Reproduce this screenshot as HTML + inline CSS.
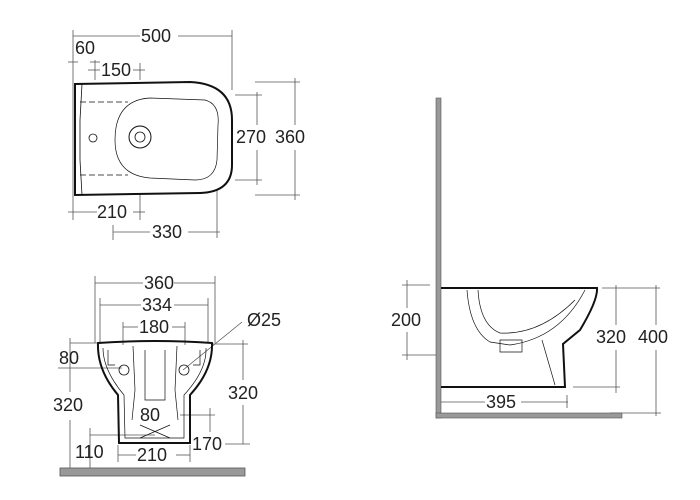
<!DOCTYPE html>
<html><head><style>body{margin:0;background:#fff}svg{display:block}text{font-family:"Liberation Sans",Arial,sans-serif;font-size:18px;fill:#222}</style></head><body>
<svg width="700" height="500" viewBox="0 0 700 500">
<g stroke="#555" stroke-width="0.8" fill="none">
<line x1="73" y1="36" x2="140" y2="36"/><line x1="178" y1="36" x2="232" y2="36"/>
<line x1="73" y1="30" x2="73" y2="220"/><line x1="232" y1="30" x2="232" y2="90"/>
<line x1="95" y1="60" x2="95" y2="80"/><line x1="88" y1="70" x2="100" y2="70"/><line x1="133" y1="70" x2="145" y2="70"/><line x1="140" y1="63" x2="140" y2="80"/>
<line x1="68" y1="62" x2="78" y2="62"/><line x1="90" y1="62" x2="100" y2="62"/>
<line x1="68" y1="212" x2="97" y2="212"/><line x1="133" y1="212" x2="145" y2="212"/><line x1="140" y1="195" x2="140" y2="220"/>
<line x1="113" y1="225" x2="113" y2="240"/><line x1="113" y1="232" x2="150" y2="232"/><line x1="188" y1="232" x2="220" y2="232"/><line x1="217" y1="190" x2="217" y2="238"/>
<line x1="235" y1="95" x2="262" y2="95"/><line x1="235" y1="180" x2="262" y2="180"/><line x1="257" y1="92" x2="257" y2="125"/><line x1="257" y1="150" x2="257" y2="185"/>
<line x1="255" y1="82" x2="300" y2="82"/><line x1="255" y1="195" x2="300" y2="195"/><line x1="295" y1="78" x2="295" y2="125"/><line x1="295" y1="150" x2="295" y2="200"/>
<line x1="95" y1="283" x2="143" y2="283"/><line x1="174" y1="283" x2="215" y2="283"/><line x1="95" y1="276" x2="95" y2="343"/><line x1="215" y1="276" x2="215" y2="343"/>
<line x1="100" y1="305" x2="141" y2="305"/><line x1="174" y1="305" x2="208" y2="305"/><line x1="100" y1="298" x2="100" y2="343"/><line x1="208" y1="298" x2="208" y2="343"/>
<line x1="123" y1="327" x2="138" y2="327"/><line x1="172" y1="327" x2="185" y2="327"/><line x1="123" y1="322" x2="123" y2="345"/><line x1="185" y1="322" x2="185" y2="345"/>
<line x1="70" y1="343" x2="97" y2="343"/><line x1="70" y1="338" x2="70" y2="392"/><line x1="70" y1="420" x2="70" y2="468"/>
<line x1="58" y1="368" x2="122" y2="368"/>
<line x1="212" y1="344" x2="248" y2="344"/><line x1="243" y1="340" x2="243" y2="380"/><line x1="243" y1="405" x2="243" y2="444"/><line x1="225" y1="444" x2="250" y2="444"/>
<line x1="180" y1="415" x2="215" y2="415"/><line x1="210" y1="408" x2="210" y2="432"/>
<line x1="90" y1="435" x2="155" y2="435"/><line x1="90" y1="428" x2="90" y2="468"/>
<line x1="118" y1="455" x2="136" y2="455"/><line x1="176" y1="455" x2="190" y2="455"/><line x1="118" y1="445" x2="118" y2="462"/><line x1="190" y1="445" x2="190" y2="462"/>
<line x1="183" y1="370" x2="242" y2="322"/>
<line x1="402" y1="285" x2="430" y2="285"/><line x1="402" y1="355" x2="436" y2="355"/><line x1="407" y1="280" x2="407" y2="308"/><line x1="407" y1="332" x2="407" y2="360"/>
<line x1="602" y1="288" x2="660" y2="288"/><line x1="573" y1="387" x2="620" y2="387"/><line x1="616" y1="285" x2="616" y2="325"/><line x1="616" y1="350" x2="616" y2="393"/>
<line x1="610" y1="413" x2="661" y2="413"/><line x1="656" y1="285" x2="656" y2="325"/><line x1="656" y1="350" x2="656" y2="416"/>
<line x1="441" y1="402" x2="485" y2="402"/><line x1="521" y1="402" x2="568" y2="402"/><line x1="567" y1="395" x2="567" y2="408"/>
</g>
<g fill="none" stroke="#111">
<path d="M75 84 L190 82 Q232 84 232 120 L232 165 Q232 192 200 193 L75 195 Z" stroke-width="2"/>
<path d="M82 84 L80 120 L80 160 L82 195" stroke-width="0.8"/>
<path d="M80 102 L128 102 M80 175 L128 175" stroke-dasharray="6,3" stroke-width="0.8"/>
<path d="M150 98 L205 100 Q220 104 218 125 L217 160 Q215 180 195 180 L150 178 Q115 175 115 140 Q115 100 150 98Z" stroke-width="0.7"/>
<circle cx="93" cy="138" r="4" stroke-width="0.8"/>
<circle cx="140" cy="137" r="11" stroke-width="1"/><circle cx="140" cy="137" r="5" stroke-width="0.8"/>
</g>
<rect x="60" y="468" width="185" height="8" fill="#999" stroke="#555" stroke-width="0.8"/>
<g fill="none" stroke="#111">
<path d="M98 343 Q97 370 118 395 L119 443 L190 443 L190 395 Q213 370 212 343 Q155 339 98 343Z" stroke-width="2"/>
<path d="M103 348 Q103 370 124 395 L125 438 L184 438 L184 395 Q207 370 206 348" stroke-width="0.7"/>
<path d="M133 346 L135 390 L132 420 M177 346 L175 390 L178 420 M145 350 L145 400 L165 400 L165 350" stroke-width="0.7"/>
<circle cx="124" cy="370" r="5" stroke-width="0.8"/><circle cx="184" cy="370" r="5" stroke-width="0.8"/>
<path d="M108 350 L108 365 L115 365 M200 350 L200 365 L193 365 M140 425 L170 438 M170 425 L140 438" stroke-width="0.7"/>
</g>
<rect x="436" y="98" width="5" height="320" fill="#999" stroke="#555" stroke-width="0.6"/>
<rect x="436" y="413" width="186" height="5" fill="#999" stroke="#555" stroke-width="0.6"/>
<g fill="none" stroke="#111">
<path d="M441 288 L597 288 Q598 300 580 330 L563 344 L565 387 L441 387" stroke-width="2"/>
<path d="M467 290 Q470 330 490 342 L510 345 Q560 338 585 290" stroke-width="0.7"/>
<path d="M478 290 Q480 325 500 333 Q540 335 575 300" stroke-width="0.7"/>
<path d="M500 340 L522 340 L522 352 L500 352Z M542 340 L555 385" stroke-width="0.7"/>
</g>
<g>
<text x="141" y="42">500</text>
<text x="75" y="54">60</text>
<text x="101" y="76">150</text>
<text x="97" y="218">210</text>
<text x="152" y="238">330</text>
<text x="236" y="143">270</text>
<text x="275" y="143">360</text>
<text x="144" y="289">360</text>
<text x="142" y="311">334</text>
<text x="139" y="333">180</text>
<text x="247" y="326">Ø25</text>
<text x="59" y="364">80</text>
<text x="53" y="411">320</text>
<text x="228" y="399">320</text>
<text x="140" y="421">80</text>
<text x="192" y="450">170</text>
<text x="75" y="458">110</text>
<text x="137" y="461">210</text>
<text x="391" y="326">200</text>
<text x="596" y="343">320</text>
<text x="638" y="343">400</text>
<text x="486" y="408">395</text>
</g>
</svg>
</body></html>
